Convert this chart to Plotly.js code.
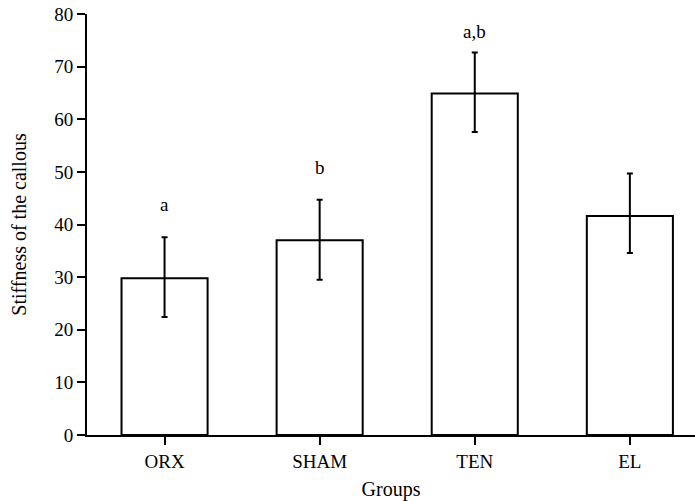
<!DOCTYPE html>
<html>
<head>
<meta charset="utf-8">
<script src="https://cdn.plot.ly/plotly-3.0.1.min.js"></script>
<style>html,body{margin:0;padding:0;background:#fff;}#chart{width:695px;height:501px;}</style>
</head>
<body>
<div id="chart"></div>
<script>
const groups = ["ORX", "SHAM", "TEN", "EL"];
const stiffness = [29.8, 37.0, 64.9, 41.6];
const errors = [7.8, 7.7, 7.8, 8.1];
const errorsMinus = [7.4, 7.5, 7.3, 7.0];
const sigLabels = ["a", "b", "a,b", ""];
const yTicks = [0, 10, 20, 30, 40, 50, 60, 70, 80];

const FONT = "Liberation Serif";
const labelShift = [20, 20, 8, 20];

const trace = {
  type: "bar",
  x: groups,
  y: stiffness,
  marker: {color: "#ffffff", line: {color: "#000000", width: 2}},
  error_y: {type: "data", array: errors, arrayminus: errorsMinus, visible: true, color: "#000000", thickness: 2, width: 3},
  hoverinfo: "none"
};

const annotations = groups.map((g, i) => ({
  x: g, y: stiffness[i] + errors[i], xref: "x", yref: "y",
  text: sigLabels[i], showarrow: false, yanchor: "bottom", yshift: labelShift[i],
  font: {family: FONT, size: 19, color: "#000"}
})).filter(a => a.text !== "");

const layout = {
  width: 695, height: 501,
  margin: {l: 87, r: 0, t: 14, b: 66},
  paper_bgcolor: "#fff", plot_bgcolor: "#fff",
  showlegend: false,
  bargap: 0.445,
  font: {family: FONT, size: 19, color: "#000"},
  xaxis: {
    type: "category", range: [-0.5, 3.42],
    showline: true, linecolor: "#000", linewidth: 2,
    ticks: "outside", ticklen: 8, tickwidth: 2, tickcolor: "#000",
    showgrid: false, zeroline: false,
    tickfont: {family: FONT, size: 19, color: "#000"},
    title: {text: "Groups", font: {family: FONT, size: 20, color: "#000"}, standoff: 12}
  },
  yaxis: {
    range: [0, 80], tickvals: yTicks, ticktext: yTicks.map(String),
    showline: true, linecolor: "#000", linewidth: 2,
    ticks: "outside", ticklen: 8, tickwidth: 2, tickcolor: "#000",
    showgrid: false, zeroline: false,
    tickfont: {family: FONT, size: 19, color: "#000"},
    title: {text: "Stiffness of the callous", font: {family: FONT, size: 20, color: "#000"}, standoff: 22}
  },
  annotations: annotations
};

Plotly.newPlot("chart", [trace], layout, {displayModeBar: false, staticPlot: true});
</script>
</body>
</html>
